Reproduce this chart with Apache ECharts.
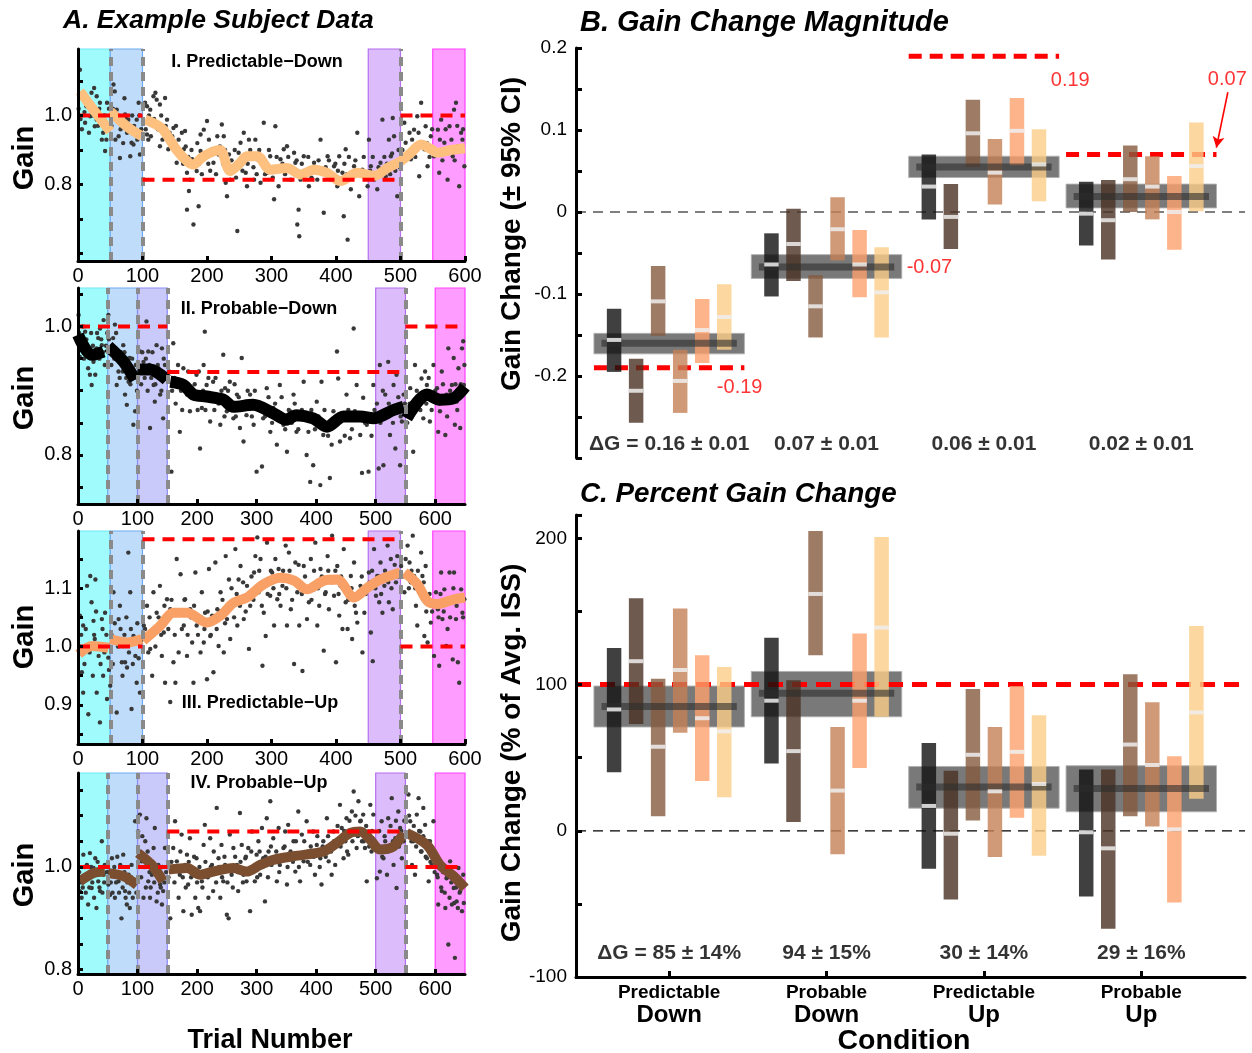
<!DOCTYPE html>
<html><head><meta charset="utf-8">
<script src="https://cdn.jsdelivr.net/npm/echarts@6/dist/echarts.min.js"></script>
<style>html,body{margin:0;padding:0;background:#fff}#c{width:1252px;height:1053px}</style>
</head><body><div id="c"></div>
<script>
// ---------------- DATA ----------------
const trialTicks600 = [0,100,200,300,400,500,600];
const subplotNames = ['I. Predictable\u2212Down','II. Probable\u2212Down','III. Predictable\u2212Up','IV. Probable\u2212Up'];

// phases: [start, end, phaseName]
const s1Phases = [[0,50,'base'],[50,100,'pre'],[450,500,'late'],[550,600,'wash']];
const s2Phases = [[0,50,'base'],[50,100,'pre'],[100,150,'pre2'],[500,550,'late'],[600,650,'wash']];
const s3Phases = [[0,50,'base'],[50,100,'pre'],[450,500,'late'],[550,600,'wash']];
const s4Phases = [[0,50,'base'],[50,100,'pre'],[100,150,'pre2'],[500,550,'late'],[600,650,'wash']];

const s1Switch = [50,100,500];
const s2Switch = [50,100,150,550];
const s3Switch = [50,100,500];
const s4Switch = [50,100,150,550];

// target gain segments: [startTrial, endTrial, gain]
const s1Targets = [[0,100,1.0],[100,500,0.814],[500,600,1.0]];
const s2Targets = [[0,150,1.0],[150,550,0.929],[550,650,1.0]];
const s3Targets = [[0,100,1.0],[100,500,1.184],[500,600,1.0]];
const s4Targets = [[0,150,1.0],[150,550,1.069],[550,650,1.0]];

// smoothed gain (per block)
const s1Smooth = [
 [[3,1.07],[24,1.017],[50,0.954]],
 [[50,1.012],[76,0.968],[99,0.94]],
 [[104,0.988],[120,0.975],[132,0.959],[153,0.9],[170,0.866],[179,0.858],[192,0.878],[205,0.892],[220,0.9],[236,0.839],[250,0.86],[262,0.882],[278,0.882],[298,0.843],[324,0.848],[345,0.829],[366,0.843],[386,0.834],[407,0.81],[433,0.834],[459,0.825],[480,0.848],[500,0.867],[515,0.89],[532,0.916],[545,0.905],[558,0.892],[578,0.9],[600,0.905]]
];
const s2Smooth = [
 [[0,0.987],[23,0.956],[43,0.961]],
 [[51,0.969],[76,0.946],[96,0.917]],
 [[101,0.933],[121,0.933],[149,0.917]],
 [[155,0.914],[177,0.909],[194,0.894],[216,0.891],[244,0.886],[261,0.875],[294,0.878],[328,0.865],[350,0.855],[367,0.862],[395,0.857],[418,0.844],[446,0.86],[474,0.86],[496,0.857],[530,0.87],[547,0.875]],
 [[552,0.857],[586,0.894],[608,0.886],[630,0.888],[650,0.906]]
];
const s3Smooth = [
 [[1,0.987],[22,1.001],[47,0.998]],
 [[50,1.013],[76,1.007],[99,1.013]],
 [[101,1.01],[127,1.035],[148,1.058],[169,1.058],[200,1.041],[221,1.053],[241,1.075],[262,1.084],[288,1.107],[314,1.118],[335,1.113],[355,1.098],[381,1.113],[402,1.115],[428,1.084],[449,1.101],[469,1.115],[500,1.127]],
 [[506,1.127],[526,1.107],[542,1.078],[558,1.073],[583,1.081],[600,1.084]]
];
const s4Smooth = [
 [[3,0.972],[26,0.988],[45,0.991]],
 [[51,0.988],[76,0.982],[99,0.965]],
 [[101,1.027],[124,1.004],[143,0.972]],
 [[152,0.995],[183,0.998],[205,0.985],[227,0.991],[261,0.998],[283,0.991],[306,1.004],[328,1.014],[362,1.021],[412,1.03],[435,1.047],[457,1.066],[474,1.069],[491,1.053],[507,1.034],[530,1.04],[547,1.066]],
 [[552,1.066],[586,1.043],[608,1.004],[631,0.982],[650,0.959]]
];

// trial-by-trial gain
const s1Dots = [[3,1.133],[6,0.96],[13,1.027],[21,1.066],[29,1.056],[34,1.037],[26,0.969],[39,0.998],[44,0.93],[39,0.95],[45,1.037],[29,0.988],[19,0.998],[11,0.979],[37,0.93],[42,0.897],
[55,1.09],[57,1.07],[63,0.94],[65,0.877],[73,1.003],[76,0.95],[78,0.988],[81,0.882],[83,0.921],[86,0.916],[91,0.988],[94,1.037],[96,0.887],[89,0.95],[68,0.983],[60,1.017],
[104,1.037],[107,1.027],[112,1.017],[117,1.056],[120,1.066],[122,1.046],[127,1.032],[135,1.051],[107,0.945],[109,0.93],[115,0.979],[125,0.974],[127,0.911],[133,0.95],[138,0.988],[140,0.902],[146,0.94],[148,0.964],[153,0.863],[156,0.93],[164,0.902],[166,0.955],[169,0.834],[169,0.727],[172,0.781],[179,0.684],[174,0.814],[177,0.873],[182,0.853],[184,0.839],[187,0.737],[190,0.897],[190,0.945],
[195,0.959],[200,0.984],[203,0.93],[208,0.902],[210,0.863],[216,0.94],[218,0.887],[223,0.974],[226,0.94],[229,0.805],[231,0.766],[234,0.887],[236,0.814],[247,0.665],[241,0.843],[249,0.892],[252,0.921],[257,0.95],[260,0.834],[262,0.795],[265,0.93],[270,0.882],[273,0.814],[275,0.93],[278,0.873],[283,0.805],[288,0.979],[293,0.834],[298,0.882],
[304,0.757],[306,0.969],[311,0.795],[314,0.873],[319,0.902],[324,0.911],[327,0.853],[330,0.814],[335,0.892],[337,0.863],[340,0.684],[343,0.65],[342,0.727],[345,0.814],[350,0.882],[355,0.834],[358,0.795],[366,0.863],[371,0.814],[376,0.93],[381,0.718],[387,0.882],[392,0.814],[397,0.853],
[402,0.795],[405,0.882],[410,0.834],[412,0.708],[415,0.902],[418,0.64],[423,0.786],[428,0.853],[433,0.95],[436,0.766],[441,0.843],[449,0.795],[451,0.93],[454,0.853],[459,0.814],[464,0.786],[469,0.863],[472,0.988],[477,0.824],[482,0.93],[485,0.882],[490,0.94],[493,0.853],[495,0.766],[488,0.993],
[506,0.979],[508,0.921],[514,0.95],[516,0.873],[521,0.959],[526,0.998],[529,0.824],[532,1.037],[537,0.902],[539,0.969],[542,0.853],[547,0.94],[552,0.882],[558,0.959],[560,0.834],[563,0.988],[568,0.921],[573,0.814],[576,0.969],[581,0.882],[583,1.017],[586,1.037],[589,0.911],[591,0.795],[594,0.95],[599,0.853],[596,0.93]];
const s1DotsMore = [[1,1.02],[4,0.99],[8,1.06],[10,1.01],[15,1.04],[17,0.95],[23,1.0],[25,1.08],[31,0.97],[33,1.02],[36,0.99],[41,1.0],[47,0.96],[48,1.02],
[52,0.97],[54,1.02],[58,0.93],[62,1.0],[66,0.96],[70,0.92],[72,1.05],[75,0.99],[80,0.96],[84,1.0],[87,0.97],[92,0.93],[95,1.0],[98,0.96],
[102,0.98],[105,0.96],[110,1.0],[113,0.94],[118,0.99],[124,0.96],[129,1.0],[131,0.93],[136,0.97],[142,0.95],[144,0.92],[150,0.9],[152,0.97],[158,0.88],[161,0.95],[163,0.86],[167,0.91],[171,0.88],[176,0.9],[180,0.86],[185,0.92],[188,0.86],[192,0.83],[197,0.88],[202,0.86],[205,0.84],[212,0.9],[214,0.83],[220,0.91],[225,0.86],[228,0.9],[233,0.84],[238,0.87],[243,0.9],[245,0.82],[251,0.86],[255,0.84],[258,0.88],[263,0.86],[267,0.9],[272,0.85],[277,0.83],[281,0.9],[285,0.86],[290,0.83],[296,0.9],[300,0.85],[302,0.82],[308,0.88],[313,0.84],[317,0.86],[321,0.83],[326,0.88],[332,0.84],[339,0.87],[347,0.86],[352,0.84],[357,0.88],[362,0.82],[368,0.85],[373,0.87],[378,0.84],[384,0.85],[389,0.87],[395,0.82],[399,0.86],[403,0.84],[407,0.81],[413,0.86],[417,0.83],[420,0.88],[426,0.82],[430,0.87],[438,0.84],[443,0.88],[446,0.82],[453,0.84],[457,0.88],[461,0.82],[466,0.85],[471,0.83],[475,0.88],[479,0.86],[484,0.83],[487,0.89],[492,0.84],[497,0.9],[499,0.85],
[503,0.9],[511,0.89],[518,0.93],[523,0.88],[528,0.95],[534,0.91],[541,0.92],[545,0.88],[549,0.96],[555,0.9],[561,0.93],[565,0.87],[570,0.96],[574,0.9],[579,0.93],[584,0.87],[588,0.97],[593,0.9],[597,0.96]];

const s2Dots = [[1,1.018],[3,0.953],[12,0.992],[17,0.935],[20,0.925],[23,0.909],[26,0.945],[31,0.966],[34,0.982],[37,0.997],[40,0.971],[43,1.01],[45,0.94],[15,0.961],[29,0.925],
[51,1.018],[54,0.961],[59,0.982],[65,0.909],[68,0.93],[73,0.945],[79,0.894],[82,0.878],[85,0.914],[87,0.951],[90,0.93],[93,0.847],[96,0.868],[76,0.971],[62,1.003],
[104,0.961],[110,0.945],[115,1.008],[118,0.961],[121,0.842],[127,0.909],[132,0.971],[135,0.935],[138,0.894],[141,0.966],[143,0.857],[146,0.94],[129,0.883],
[157,0.774],[160,0.974],[166,0.909],[171,0.836],[177,0.935],[183,0.894],[188,0.868],[194,0.889],[199,0.925],[205,0.81],[208,0.873],[211,0.94],[213,0.992],[216,0.909],[222,0.852],[227,0.914],[233,0.883],[239,0.847],[244,0.956],[247,0.904],[250,0.868],[255,0.914],[261,0.857],[267,0.894],[272,0.842],[275,0.951],[278,0.821],[283,0.862],[289,0.894],[295,0.847],[300,0.774],[303,0.878],[309,0.782],[311,0.857],[317,0.904],[323,0.836],[328,0.873],[334,0.816],[339,0.909],[345,0.847],[351,0.805],[356,0.868],[362,0.894],[367,0.836],[373,0.857],[379,0.914],[384,0.8],[387,0.836],[390,0.758],[395,0.784],[401,0.883],[407,0.753],[409,0.914],[412,0.831],[418,0.847],[423,0.764],[426,0.816],[429,0.868],[435,0.961],[437,0.919],[440,0.821],[446,0.857],[451,0.894],[457,0.826],[463,0.997],[465,0.868],[468,0.909],[474,0.831],[477,0.772],[479,0.889],[485,0.847],[488,0.774],[491,0.857],[496,0.909],
[505,0.779],[507,0.94],[510,0.857],[513,0.784],[516,0.894],[521,0.945],[524,0.831],[527,0.873],[530,0.909],[533,0.81],[535,0.925],[541,0.784],[544,0.852],[547,0.894],
[555,0.868],[558,0.904],[563,0.805],[566,0.94],[572,0.883],[577,0.919],[580,0.857],[583,0.93],[586,0.909],[591,0.852],[597,0.94],[603,0.904],[605,0.836],[608,0.868],[611,0.93],[617,0.831],[619,0.894],[622,0.966],[628,0.909],[631,0.951],[633,0.847],[636,0.883],[639,0.935],[642,0.842],[645,0.966],[647,0.977],[648,0.909]];
const s2DotsMore = [[2,0.99],[5,0.97],[8,1.0],[10,0.95],[14,0.98],[19,0.96],[22,0.99],[25,0.97],[28,0.95],[32,0.99],[36,0.95],[39,0.98],[42,0.96],[47,0.97],[49,0.99],
[52,0.98],[56,0.94],[58,0.97],[61,0.95],[64,0.99],[67,0.95],[70,0.92],[72,0.96],[75,0.93],[78,0.96],[81,0.92],[84,0.95],[88,0.91],[91,0.95],[94,0.92],[97,0.94],[99,0.9],
[102,0.93],[106,0.91],[108,0.96],[112,0.92],[114,0.95],[117,0.9],[120,0.94],[123,0.92],[125,0.96],[130,0.91],[134,0.94],[137,0.92],[140,0.9],[144,0.95],[148,0.92],
[153,0.93],[158,0.9],[162,0.92],[164,0.88],[168,0.94],[173,0.9],[175,0.87],[180,0.91],[185,0.93],[190,0.89],[196,0.91],[201,0.87],[203,0.93],[210,0.9],[214,0.87],[219,0.92],[224,0.89],[229,0.87],[231,0.92],[236,0.88],[241,0.9],[246,0.86],[252,0.9],[258,0.87],[263,0.91],[265,0.86],[270,0.89],[280,0.88],[285,0.9],[292,0.86],[297,0.9],[305,0.87],[314,0.86],[320,0.89],[326,0.85],[331,0.88],[337,0.86],[342,0.89],[348,0.84],[354,0.87],[359,0.85],[364,0.88],[370,0.84],[376,0.87],[382,0.86],[392,0.87],[398,0.84],[404,0.86],[414,0.87],[420,0.83],[431,0.85],[443,0.86],[448,0.83],[454,0.87],[460,0.84],[470,0.86],[482,0.85],[493,0.83],[498,0.87],
[502,0.88],[508,0.85],[512,0.9],[518,0.86],[522,0.88],[529,0.85],[538,0.89],[542,0.86],[549,0.88],
[553,0.85],[557,0.88],[561,0.86],[569,0.9],[575,0.87],[585,0.88],[589,0.92],[594,0.87],[600,0.9],[607,0.88],[613,0.91],[620,0.86],[625,0.9],[634,0.91],[637,0.87],[643,0.91],[649,0.94]];

const s3Dots = [[3,1.053],[6,0.956],[8,0.921],[14,1.104],[16,0.884],[19,1.121],[21,1.076],[24,1.044],[26,1.013],[27,1.115],[29,0.921],[32,0.984],[34,0.87],[37,1.047],[39,0.95],[42,1.058],[45,0.91],[47,0.981],[8,1.036],[34,0.996],
[50,0.933],[55,1.093],[60,0.887],[63,1.047],[65,1.07],[68,0.973],[70,1.001],[73,0.973],[78,1.161],[81,1.093],[83,0.893],[86,1.018],[89,0.984],[91,0.938],[96,0.921],[76,0.964],
[102,1.036],[107,1.07],[112,0.996],[115,0.95],[117,1.093],[122,1.058],[127,1.104],[130,0.984],[133,1.024],[135,0.938],[138,1.081],[143,1.064],[143,0.905],[148,0.973],[151,0.938],[153,1.15],[156,0.99],[159,1.124],[164,1.036],[166,1.081],[169,0.984],[174,1.064],[177,1.007],[179,0.938],[182,1.127],[184,1.036],[190,0.99],[192,1.093],[195,1.007],[197,1.058],
[200,0.944],[203,1.133],[205,1.018],[208,1.053],[210,0.956],[213,1.144],[216,1.064],[218,1.001],[221,1.093],[226,0.99],[229,1.155],[231,1.047],[234,1.115],[236,1.013],[241,1.076],[244,1.167],[247,1.036],[249,1.115],[252,1.138],[254,1.081],[257,1.047],[262,1.104],[265,0.996],[267,1.07],[273,1.127],[275,1.155],[278,1.187],[280,1.093],[283,1.15],[286,0.967],[288,1.058],[291,1.018],[293,1.178],[296,1.11],
[298,1.087],[301,1.127],[304,1.036],[306,1.15],[309,1.081],[311,1.133],[314,1.07],[317,1.104],[322,1.173],[324,1.036],[327,1.161],[330,1.064],[335,0.97],[337,1.144],[340,1.093],[343,1.036],[345,1.11],[348,0.958],[350,1.138],[355,1.047],[358,1.076],[361,1.15],[366,1.098],[368,1.178],[371,1.036],[374,1.07],[376,1.133],[381,0.993],[384,1.093],[387,1.155],[389,1.064],[392,1.115],[394,1.19],[397,1.087],
[400,0.973],[402,1.138],[405,1.053],[407,1.104],[410,1.03],[412,1.167],[415,1.076],[418,1.03],[423,1.121],[425,1.013],[428,1.144],[431,1.058],[433,1.041],[438,1.104],[441,0.99],[444,1.058],[451,1.127],[454,1.024],[457,0.975],[459,1.167],[462,1.087],[464,1.121],[467,1.076],[469,1.144],[472,1.058],[475,1.104],[480,1.173],[482,1.076],[485,1.15],[488,1.064],[490,1.127],[493,1.11],[495,1.155],
[501,1.138],[506,1.093],[511,1.173],[514,1.144],[516,1.11],[519,1.19],[521,1.121],[524,1.07],[526,1.036],[529,1.093],[532,1.161],[534,1.121],[537,1.018],[539,1.138],[542,1.007],[547,1.041],[552,0.984],[555,1.093],[558,1.064],[560,0.967],[563,1.127],[565,1.047],[568,1.098],[571,1.001],[573,1.03],[576,1.127],[578,1.076],[581,0.978],[583,1.127],[586,1.047],[589,0.973],[591,0.938],[594,1.098],[596,1.058],[599,1.081]];
const s3DotsMore = [[2,1.0],[5,1.02],[10,0.97],[12,1.03],[18,0.99],[23,0.95],[25,1.02],[28,1.06],[31,1.0],[35,0.97],[38,1.03],[41,0.99],[44,1.02],[48,0.96],
[52,1.02],[54,0.97],[57,1.04],[62,1.0],[66,1.03],[69,0.95],[72,1.02],[75,1.05],[79,0.99],[82,1.03],[85,0.97],[88,1.01],[92,1.04],[94,0.98],[98,1.01],
[104,1.03],[109,0.99],[111,1.05],[116,1.02],[120,1.0],[125,1.05],[129,1.02],[134,1.07],[140,1.03],[145,1.08],[150,1.02],[155,1.06],[161,1.03],[165,1.08],[170,1.02],[175,1.05],[180,1.07],[186,1.02],[191,1.05],[196,1.03],[201,1.06],[206,1.02],[211,1.05],[215,1.03],[220,1.06],[224,1.08],[228,1.04],[233,1.07],[238,1.1],[242,1.05],[246,1.09],[251,1.07],[256,1.11],[260,1.06],[264,1.09],[269,1.12],[272,1.08],[277,1.1],[281,1.13],[285,1.07],[289,1.11],[294,1.09],[299,1.13],[303,1.1],[308,1.12],[312,1.09],[318,1.13],[323,1.1],[328,1.13],[332,1.08],[338,1.11],[342,1.14],[347,1.09],[352,1.12],[357,1.1],[362,1.08],[366,1.13],[372,1.1],[378,1.12],[383,1.09],[388,1.13],[393,1.11],[399,1.13],[404,1.09],[408,1.12],[413,1.1],[419,1.08],[424,1.1],[429,1.07],[435,1.09],[440,1.12],[446,1.09],[452,1.11],[456,1.13],[461,1.1],[466,1.12],[470,1.09],[476,1.13],[481,1.11],[486,1.1],[491,1.14],[497,1.12],
[503,1.12],[508,1.15],[513,1.1],[517,1.13],[523,1.1],[527,1.13],[531,1.09],[536,1.11],[540,1.06],[545,1.09],[549,1.06],[554,1.07],[559,1.05],[562,1.09],[567,1.06],[572,1.08],[577,1.05],[582,1.1],[587,1.07],[592,1.08],[597,1.05]];

const s4Dots = [[3,0.953],[6,0.94],[9,1.024],[12,0.978],[15,1.004],[17,0.927],[20,1.027],[23,0.959],[26,0.998],[29,1.017],[31,0.92],[34,0.972],[37,0.953],[40,1.05],[43,0.985],[45,1.004],
[51,0.966],[54,0.946],[57,1.017],[59,0.991],[62,0.94],[68,0.972],[71,1.004],[73,0.9],[76,1.024],[79,0.953],[82,0.927],[85,0.985],[87,0.92],[90,1.004],[93,0.966],[96,1.089],
[101,1.069],[104,1.102],[107,1.011],[110,0.94],[113,1.05],[115,1.095],[118,0.972],[121,0.94],[124,0.985],[127,1.037],[129,1.076],[132,0.933],[135,1.004],[138,0.966],[141,0.927],[143,0.953],[146,1.037],
[155,0.9],[160,1.037],[163,1.089],[166,1.011],[169,0.94],[171,0.985],[174,1.063],[177,0.914],[180,1.004],[183,1.024],[185,0.966],[188,1.056],[191,0.907],[194,0.985],[197,0.94],[199,1.017],[202,0.92],[205,0.914],[208,0.972],[211,1.043],[213,1.082],[216,0.985],[219,0.94],[222,1.056],[225,1.004],[227,0.953],[233,1.115],[236,1.017],[239,0.94],[241,1.043],[244,0.972],[247,1.004],[250,0.907],[253,0.9],[255,1.063],[258,0.985],[261,1.037],[267,1.004],[269,0.953],[272,1.105],[275,1.043],[278,0.985],[281,1.017],[283,0.972],[286,1.037],[289,0.914],[292,1.069],[295,0.998],[297,0.972],[300,1.024],[303,1.05],[306,0.985],[309,1.076],[311,1.017],[314,0.933],[317,1.095],[320,1.03],[323,1.128],[325,1.004],[328,1.056],[334,0.972],[337,1.076],[339,1.004],[345,1.037],[348,1.069],[351,0.966],[353,1.082],[356,1.017],[362,1.05],[365,0.991],[367,1.024],[370,1.108],[373,0.972],[376,1.063],[379,1.011],[384,1.089],[387,1.03],[390,1.004],[395,1.069],[398,0.985],[401,1.043],[407,1.017],[409,0.966],[412,1.05],[418,1.095],[421,1.011],[423,1.037],[426,0.985],[429,1.069],[432,1.004],[435,1.043],[440,1.121],[443,1.076],[446,1.017],[449,1.05],[451,1.095],[454,1.024],[457,1.063],[460,1.108],[463,1.147],[465,1.069],[468,1.037],[471,1.128],[474,1.089],[477,1.05],[479,1.102],[482,1.037],[485,0.972],[488,1.069],[491,1.121],[493,1.03],[496,1.102],
[502,0.978],[505,1.037],[507,0.991],[510,1.089],[513,1.017],[516,1.05],[519,0.985],[521,1.095],[524,1.037],[527,1.134],[530,1.004],[533,1.056],[535,0.959],[538,1.108],[541,1.076],[544,1.017],[547,1.05],
[555,1.141],[558,1.089],[561,1.004],[563,1.05],[566,0.985],[569,1.102],[572,1.134],[575,1.069],[577,1.03],[580,1.115],[583,1.082],[586,1.017],[589,0.972],[591,1.05],[594,1.004],[597,1.089],[603,0.985],[605,0.927],[608,1.004],[611,0.953],[614,0.998],[617,0.92],[619,0.978],[622,0.849],[625,1.011],[628,0.927],[631,0.959],[633,0.823],[636,0.933],[639,0.998],[642,0.953],[645,0.914],[647,0.985]];
const s4DotsMore = [[2,0.99],[5,0.97],[8,0.96],[11,1.0],[13,0.95],[16,0.98],[19,0.96],[22,1.0],[24,0.97],[27,0.94],[30,0.99],[33,1.01],[36,0.96],[38,0.99],[41,0.95],[44,0.97],[48,0.99],
[52,0.99],[55,0.97],[58,0.95],[61,1.0],[64,0.97],[66,1.02],[69,0.95],[72,0.98],[75,0.96],[78,0.99],[80,0.94],[83,0.97],[86,0.95],[89,0.98],[92,0.94],[95,0.97],[98,0.95],
[103,1.03],[106,0.98],[108,1.06],[111,1.0],[114,0.96],[117,1.03],[120,0.99],[122,0.96],[125,1.01],[128,0.97],[131,1.0],[134,0.95],[136,0.99],[139,0.96],[142,1.0],[145,0.97],[148,0.99],
[152,0.98],[157,1.01],[162,0.97],[167,1.0],[172,1.03],[176,0.98],[181,0.96],[186,1.01],[190,0.98],[195,1.02],[200,0.97],[204,1.0],[209,0.96],[214,1.01],[218,0.98],[223,1.0],[228,1.03],[232,0.97],[237,1.0],[242,0.98],[246,1.02],[251,0.97],[256,1.0],[260,0.96],[264,1.02],[268,0.99],[273,1.01],[277,0.97],[282,1.02],[287,0.99],[291,1.03],[296,1.0],[301,0.98],[305,1.03],[310,1.0],[315,1.02],[319,0.98],[324,1.04],[329,1.01],[333,1.03],[338,0.99],[342,1.02],[347,1.04],[352,1.0],[357,1.03],[361,1.01],[366,1.05],[371,1.0],[375,1.02],[380,1.05],[386,1.01],[391,1.04],[396,1.02],[402,1.06],[406,1.0],[411,1.04],[416,1.02],[420,1.06],[425,1.03],[430,1.05],[436,1.08],[441,1.04],[447,1.07],[452,1.03],[456,1.09],[461,1.05],[466,1.1],[470,1.06],[475,1.09],[480,1.05],[484,1.08],[489,1.04],[494,1.07],[498,1.05],
[501,1.04],[506,1.07],[511,1.02],[515,1.06],[520,1.03],[525,1.08],[529,1.05],[534,1.09],[539,1.04],[543,1.07],[548,1.09],
[553,1.06],[556,1.1],[560,1.05],[564,1.08],[568,1.04],[573,1.07],[576,1.03],[580,1.06],[584,1.02],[588,1.05],[592,1.01],[596,1.03],[599,0.99],
[601,1.02],[604,0.98],[607,1.0],[610,0.96],[613,0.99],[616,0.95],[620,0.98],[624,0.94],[627,0.97],[632,0.93],[635,0.96],[638,0.92],[641,0.95],[644,0.97],[648,0.93]];

// Panels B & C: conditions and subject estimates (6 subjects per condition)
const condTop = ['Predictable','Probable','Predictable','Probable'];
const condBottom = ['Down','Down','Up','Up'];

const gainMeanB = [[-0.156,-0.218,-0.109,-0.206,-0.144,-0.128],[-0.064,-0.039,-0.115,-0.021,-0.064,-0.098],[0.031,-0.006,0.096,0.048,0.099,0.058],[-0.002,-0.010,0.040,0.031,0.000,0.056]];
const gainLoB   = [[-0.195,-0.257,-0.151,-0.245,-0.184,-0.168],[-0.103,-0.084,-0.153,-0.059,-0.104,-0.153],[-0.009,-0.045,0.055,0.009,0.057,0.013],[-0.041,-0.058,0.000,-0.009,-0.046,0.001]];
const gainHiB   = [[-0.118,-0.179,-0.066,-0.168,-0.106,-0.088],[-0.026,0.004,-0.077,0.018,-0.022,-0.043],[0.070,0.034,0.137,0.089,0.139,0.101],[0.037,0.039,0.081,0.068,0.044,0.109]];
const groupMeanB = [-0.160,-0.067,0.055,0.019];
const groupLoB   = [-0.173,-0.081,0.042,0.005];
const groupHiB   = [-0.148,-0.052,0.068,0.034];
const idealB     = [-0.19, null, 0.19, 0.07];
const deltaB = ['\u0394G = 0.16 \u00b1 0.01','0.07 \u00b1 0.01','0.06 \u00b1 0.01','0.02 \u00b1 0.01'];

const pctMeanC = [[83,116,57.5,110,77,68],[89,54.5,162,27.5,89,139],[17,-2,52,27,54,32],[-1,-12,59,45,1,81]];
const pctLoC   = [[40,73,10,67,34,23],[46,6,120,-16,43,78],[-26,-47,7,-18,9,-17],[-45,-67,10,3,-49,22]];
const pctHiC   = [[125,159,104,152,120,112],[132,103,205,71,135,201],[60,41,97,71,99,79],[42,42,107,88,51,140]];
const groupMeanC = [85,94,30,29];
const groupLoC   = [71,78,15.5,13];
const groupHiC   = [99,109,44,44.5];
const idealC = 100;
const deltaC = ['\u0394G = 85 \u00b1 14%','94 \u00b1 15%','30 \u00b1 14%','29 \u00b1 16%'];

// ---------------- STYLE ----------------
const FONT = "'Liberation Sans', Arial, Helvetica, sans-serif";
const PHASE_FILL = {base:'#a0fcfc', pre:'#bfdcfb', pre2:'#cacafa', late:'#dcbcfa', wash:'#ff9cff'};
const PHASE_EDGE = {base:'#70e8f8', pre:'#6eaaf2', pre2:'#8c8cf5', late:'#b56ef0', wash:'#ff40ff'};
const SUBJ_COLORS = ['rgba(16,16,16,0.8)','rgba(74,49,34,0.8)','rgba(132,90,61,0.8)','rgba(196,129,86,0.8)','rgba(252,161,109,0.8)','rgba(252,205,136,0.8)'];
const LINE_COLORS = ['#fdc07e','#000000','#f9a067','#7b4e30'];
const LINE_WIDTHS = [10,12,10,10];
const SUBJ_STEP = 0.14, BAR_W = 0.092, BOX_W = 0.956, INNER_W = 0.86;
const XMIN = -0.592, XMAX = 3.659;

// ---------------- BUILD ----------------
const subs = [
 {phases:s1Phases, sw:s1Switch, targets:s1Targets, smooth:s1Smooth, dots:s1Dots.concat(s1DotsMore), xmax:600, ymin:0.578, ymax:1.193,
  yticks:[0.6,0.7,0.8,0.9,1.0,1.1], ylabels:[0.8,1.0], grid:{left:78,top:49,width:387,height:212}},
 {phases:s2Phases, sw:s2Switch, targets:s2Targets, smooth:s2Smooth, dots:s2Dots.concat(s2DotsMore), xmax:650, ymin:0.7236, ymax:1.06,
  yticks:[0.75,0.8,0.85,0.9,0.95,1.0,1.05], ylabels:[0.8,1.0], grid:{left:78,top:288,width:387,height:216}},
 {phases:s3Phases, sw:s3Switch, targets:s3Targets, smooth:s3Smooth, dots:s3Dots.concat(s3DotsMore), xmax:600, ymin:0.833, ymax:1.198,
  yticks:[0.85,0.9,0.95,1.0,1.05,1.1,1.15], ylabels:[0.9,1.0,1.1], grid:{left:78,top:531,width:387,height:213}},
 {phases:s4Phases, sw:s4Switch, targets:s4Targets, smooth:s4Smooth, dots:s4Dots.concat(s4DotsMore), xmax:650, ymin:0.7916, ymax:1.183,
  yticks:[0.8,0.85,0.9,0.95,1.0,1.05,1.1,1.15], ylabels:[0.8,1.0], grid:{left:78,top:773,width:387,height:201}}
];

const grids = [], xAxes = [], yAxes = [], series = [];
const axisLineStyle = {show:true, onZero:false, lineStyle:{color:'#000', width:3}};

subs.forEach((s, i) => {
  grids.push(Object.assign({outerBoundsMode:'none', containLabel:false}, s.grid));
  xAxes.push({type:'value', gridIndex:i, min:0, max:s.xmax, z:10, axisLine:axisLineStyle,
    axisTick:{show:true, inside:true, length:5, lineStyle:{width:3,color:'#000'}, customValues:trialTicks600},
    axisLabel:{show:true, customValues:trialTicks600, fontSize:20, color:'#000', fontFamily:FONT, margin:5},
    splitLine:{show:false}});
  yAxes.push({type:'value', gridIndex:i, min:s.ymin, max:s.ymax, z:10, axisLine:axisLineStyle,
    axisTick:{show:true, inside:true, length:5, lineStyle:{width:3,color:'#000'}, customValues:s.yticks},
    axisLabel:{show:true, customValues:s.ylabels, formatter:v=>Number(v).toFixed(1), fontSize:20, color:'#000', fontFamily:FONT, margin:6},
    splitLine:{show:false}});
  // phase bands
  series.push({type:'scatter', xAxisIndex:i, yAxisIndex:i, data:[], z:1, silent:true,
    markArea:{silent:true, data:s.phases.map(p=>[{xAxis:p[0], itemStyle:{color:PHASE_FILL[p[2]], borderColor:PHASE_EDGE[p[2]], borderWidth:1.2}},{xAxis:p[1]}])}});
  // dots
  series.push({type:'scatter', xAxisIndex:i, yAxisIndex:i, data:s.dots, symbolSize:4.4, z:2, silent:true,
    itemStyle:{color:'#383838', opacity:1}});
  // smoothed line segments
  s.smooth.forEach(seg => series.push({type:'line', xAxisIndex:i, yAxisIndex:i, data:seg, showSymbol:false, smooth:0.3, z:3, silent:true,
    lineStyle:{color:LINE_COLORS[i], width:LINE_WIDTHS[i], cap:'butt'}}));
  // block switch lines
  series.push({type:'scatter', xAxisIndex:i, yAxisIndex:i, data:[], z:4, silent:true,
    markLine:{silent:true, symbol:'none', label:{show:false}, lineStyle:{color:'#8a8a8a', width:4, type:[9,6]},
      data:s.sw.map(v=>({xAxis:v}))}});
  // targets
  s.targets.forEach(t => series.push({type:'line', xAxisIndex:i, yAxisIndex:i, data:[[t[0],t[2]],[t[1],t[2]]], showSymbol:false, z:5, silent:true,
    lineStyle:{color:'#ff0000', width:4, type:[12,8]}}));
});

// Panel B grid (4) and C grid (5)
grids.push({left:576, top:48, width:669, height:410, outerBoundsMode:'none', containLabel:false});
grids.push({left:576, top:515, width:669, height:462, outerBoundsMode:'none', containLabel:false});
xAxes.push({type:'value', gridIndex:4, min:XMIN, max:XMAX, show:false, splitLine:{show:false}});
xAxes.push({type:'value', gridIndex:5, min:XMIN, max:XMAX, z:10, axisLine:axisLineStyle,
  axisTick:{show:true, inside:true, length:6, lineStyle:{width:3,color:'#000'}, customValues:[0,1,2,3]},
  axisLabel:{show:true, customValues:[0,1,2,3], margin:5, formatter:v=>'{a|'+condTop[Math.round(v)]+'}\n{b|'+condBottom[Math.round(v)]+'}',
    rich:{a:{fontSize:19, fontWeight:'bold', fontFamily:FONT, color:'#000', lineHeight:21, align:'center'},
          b:{fontSize:24, fontWeight:'bold', fontFamily:FONT, color:'#000', lineHeight:24, align:'center'}}},
  splitLine:{show:false}});
yAxes.push({type:'value', gridIndex:4, min:-0.3, max:0.2, z:10, axisLine:axisLineStyle,
  axisTick:{show:true, inside:true, length:6, lineStyle:{width:3,color:'#000'}, customValues:[-0.3,-0.25,-0.2,-0.15,-0.1,-0.05,0,0.05,0.1,0.15,0.2]},
  axisLabel:{show:true, customValues:[-0.2,-0.1,0,0.1,0.2], formatter:v=>(Math.abs(v)<1e-9?'0':Number(v).toFixed(1)), fontSize:19, color:'#000', fontFamily:FONT, margin:9},
  splitLine:{show:false}});
yAxes.push({type:'value', gridIndex:5, min:-100, max:216, z:10, axisLine:axisLineStyle,
  axisTick:{show:true, inside:true, length:6, lineStyle:{width:3,color:'#000'}, customValues:[-100,-50,0,50,100,150,200,216]},
  axisLabel:{show:true, customValues:[-100,0,100,200], fontSize:19, color:'#000', fontFamily:FONT, margin:9},
  splitLine:{show:false}});

function subjectRows(lo, hi, mean) {
  const out = [];
  for (let g = 0; g < 4; g++) for (let s = 0; s < 6; s++) out.push([g + (s - 2.5) * SUBJ_STEP, lo[g][s], hi[g][s], mean[g][s], s]);
  return out;
}
function groupRows(lo, hi, mean) { return mean.map((m, g) => [g, lo[g], hi[g], m]); }

function rectFrom(api, x, w, lo, hi, style) {
  const a = api.coord([x, hi]), b = api.coord([x, lo]);
  const pw = api.size([w, 0])[0];
  return {type:'rect', shape:{x:a[0]-pw/2, y:a[1], width:pw, height:b[1]-a[1]}, style:style};
}
const barRender = (p, api) => rectFrom(api, api.value(0), BAR_W, api.value(1), api.value(2), {fill:SUBJ_COLORS[api.value(4)]});
const tickRender = (p, api) => { const c = api.coord([api.value(0), api.value(3)]); const pw = api.size([BAR_W,0])[0];
  return {type:'rect', shape:{x:c[0]-pw/2, y:c[1]-2, width:pw, height:4}, style:{fill:'rgba(238,238,238,0.85)'}}; };
const boxRender = (p, api) => rectFrom(api, api.value(0), BOX_W, api.value(1), api.value(2), {fill:'rgba(58,58,58,0.68)', stroke:'rgba(175,175,175,0.9)', lineWidth:1});
const innerRender = (p, api) => { const c = api.coord([api.value(0), api.value(3)]); const pw = api.size([INNER_W,0])[0];
  return {type:'rect', shape:{x:c[0]-pw/2, y:c[1]-3.5, width:pw, height:7}, style:{fill:'rgba(45,45,45,0.6)'}}; };

function panelSeries(gi, lo, hi, mean, glo, ghi, gmean) {
  const sd = subjectRows(lo, hi, mean), gd = groupRows(glo, ghi, gmean);
  return [
    {type:'custom', xAxisIndex:gi, yAxisIndex:gi, data:gd, renderItem:boxRender, z:1, silent:true},
    {type:'custom', xAxisIndex:gi, yAxisIndex:gi, data:sd, renderItem:barRender, z:3, silent:true},
    {type:'custom', xAxisIndex:gi, yAxisIndex:gi, data:gd, renderItem:innerRender, z:4, silent:true},
    {type:'custom', xAxisIndex:gi, yAxisIndex:gi, data:sd, renderItem:tickRender, z:5, silent:true},
    {type:'line', xAxisIndex:gi, yAxisIndex:gi, data:[[XMIN,0],[XMAX,0]], showSymbol:false, z:2, silent:true,
      lineStyle:{color:'#000', width:1.2, type:[10,7]}}
  ];
}
series.push(...panelSeries(4, gainLoB, gainHiB, gainMeanB, groupLoB, groupHiB, groupMeanB));
series.push(...panelSeries(5, pctLoC, pctHiC, pctMeanC, groupLoC, groupHiC, groupMeanC));

// ideal lines
idealB.forEach((v, g) => { if (v !== null) series.push({type:'line', xAxisIndex:4, yAxisIndex:4, data:[[g-BOX_W/2, v],[g+BOX_W/2, v]],
  showSymbol:false, z:2, silent:true, lineStyle:{color:'#ff0000', width:5, type:[13,8]}}); });
series.push({type:'line', xAxisIndex:5, yAxisIndex:5, data:[[XMIN, idealC],[XMAX, idealC]], showSymbol:false, z:2, silent:true,
  lineStyle:{color:'#ff0000', width:5, type:[15,9]}});

// red annotations for ideal values (label anchors in data units)
const redNotes = [{value:[0.303,-0.214], name:'-0.19'},{value:[1.509,-0.068], name:'-0.07'},{value:[2.425,0.160], name:'0.19'},{value:[3.423,0.161], name:'0.07'}];
series.push({type:'scatter', xAxisIndex:4, yAxisIndex:4, data:redNotes, symbolSize:0, z:6, silent:true,
  label:{show:true, position:'right', distance:0, formatter:'{b}', color:'#ff0000', fontSize:20, fontFamily:FONT},
  markLine:{silent:true, symbol:['none','arrow'], symbolSize:[9,11], label:{show:false}, lineStyle:{color:'#ff0000', width:1.6, type:'solid'},
    data:[[{coord:[3.55,0.146]},{coord:[3.477,0.0785]}]]}});

// ΔG summaries
series.push({type:'scatter', xAxisIndex:4, yAxisIndex:4, data:deltaB.map((t,g)=>({value:[g,-0.283], name:t})), symbolSize:0, z:6, silent:true,
  label:{show:true, position:'inside', formatter:'{b}', color:'#000', fontSize:21, fontWeight:'bold', fontFamily:FONT}});
series.push({type:'scatter', xAxisIndex:5, yAxisIndex:5, data:deltaC.map((t,g)=>({value:[g,-84], name:t})), symbolSize:0, z:6, silent:true,
  label:{show:true, position:'inside', formatter:'{b}', color:'#000', fontSize:21, fontWeight:'bold', fontFamily:FONT}});

// text
function txt(x, y, text, size, opts) {
  return Object.assign({type:'text', x:x, y:y, silent:true, z:100,
    style:Object.assign({text:text, fontSize:size, fontFamily:FONT, fontWeight:'bold', fill:'#000', textAlign:'center', textVerticalAlign:'middle'}, (opts&&opts.style)||{})},
    (opts&&opts.el)||{});
}
const graphics = [
  txt(63, 21, 'A. Example Subject Data', 26.5, {style:{textAlign:'left', fontStyle:'italic'}}),
  txt(580, 23, 'B. Gain Change Magnitude', 29, {style:{textAlign:'left', fontStyle:'italic'}}),
  txt(580, 494, 'C. Percent Gain Change', 27.8, {style:{textAlign:'left', fontStyle:'italic'}}),
  txt(257, 62, subplotNames[0], 18),
  txt(259, 309, subplotNames[1], 18),
  txt(260, 703, subplotNames[2], 18),
  txt(259, 783, subplotNames[3], 18),
  txt(25, 158, 'Gain', 29, {el:{rotation:Math.PI/2}}),
  txt(25, 398, 'Gain', 29, {el:{rotation:Math.PI/2}}),
  txt(25, 637, 'Gain', 29, {el:{rotation:Math.PI/2}}),
  txt(25, 875, 'Gain', 29, {el:{rotation:Math.PI/2}}),
  txt(270, 1041, 'Trial Number', 27),
  txt(904, 1041, 'Condition', 28.5),
  txt(512, 234, 'Gain Change (\u00b1 95% CI)', 28, {el:{rotation:Math.PI/2}}),
  txt(512, 753, 'Gain Change (% of Avg. ISS)', 28, {el:{rotation:Math.PI/2}})
];

const chart = echarts.init(document.getElementById('c'), null, {renderer:'canvas'});
chart.setOption({
  backgroundColor:'#ffffff', animation:false,
  textStyle:{fontFamily:FONT},
  grid:grids, xAxis:xAxes, yAxis:yAxes, series:series, graphic:graphics
});
</script></body></html>
